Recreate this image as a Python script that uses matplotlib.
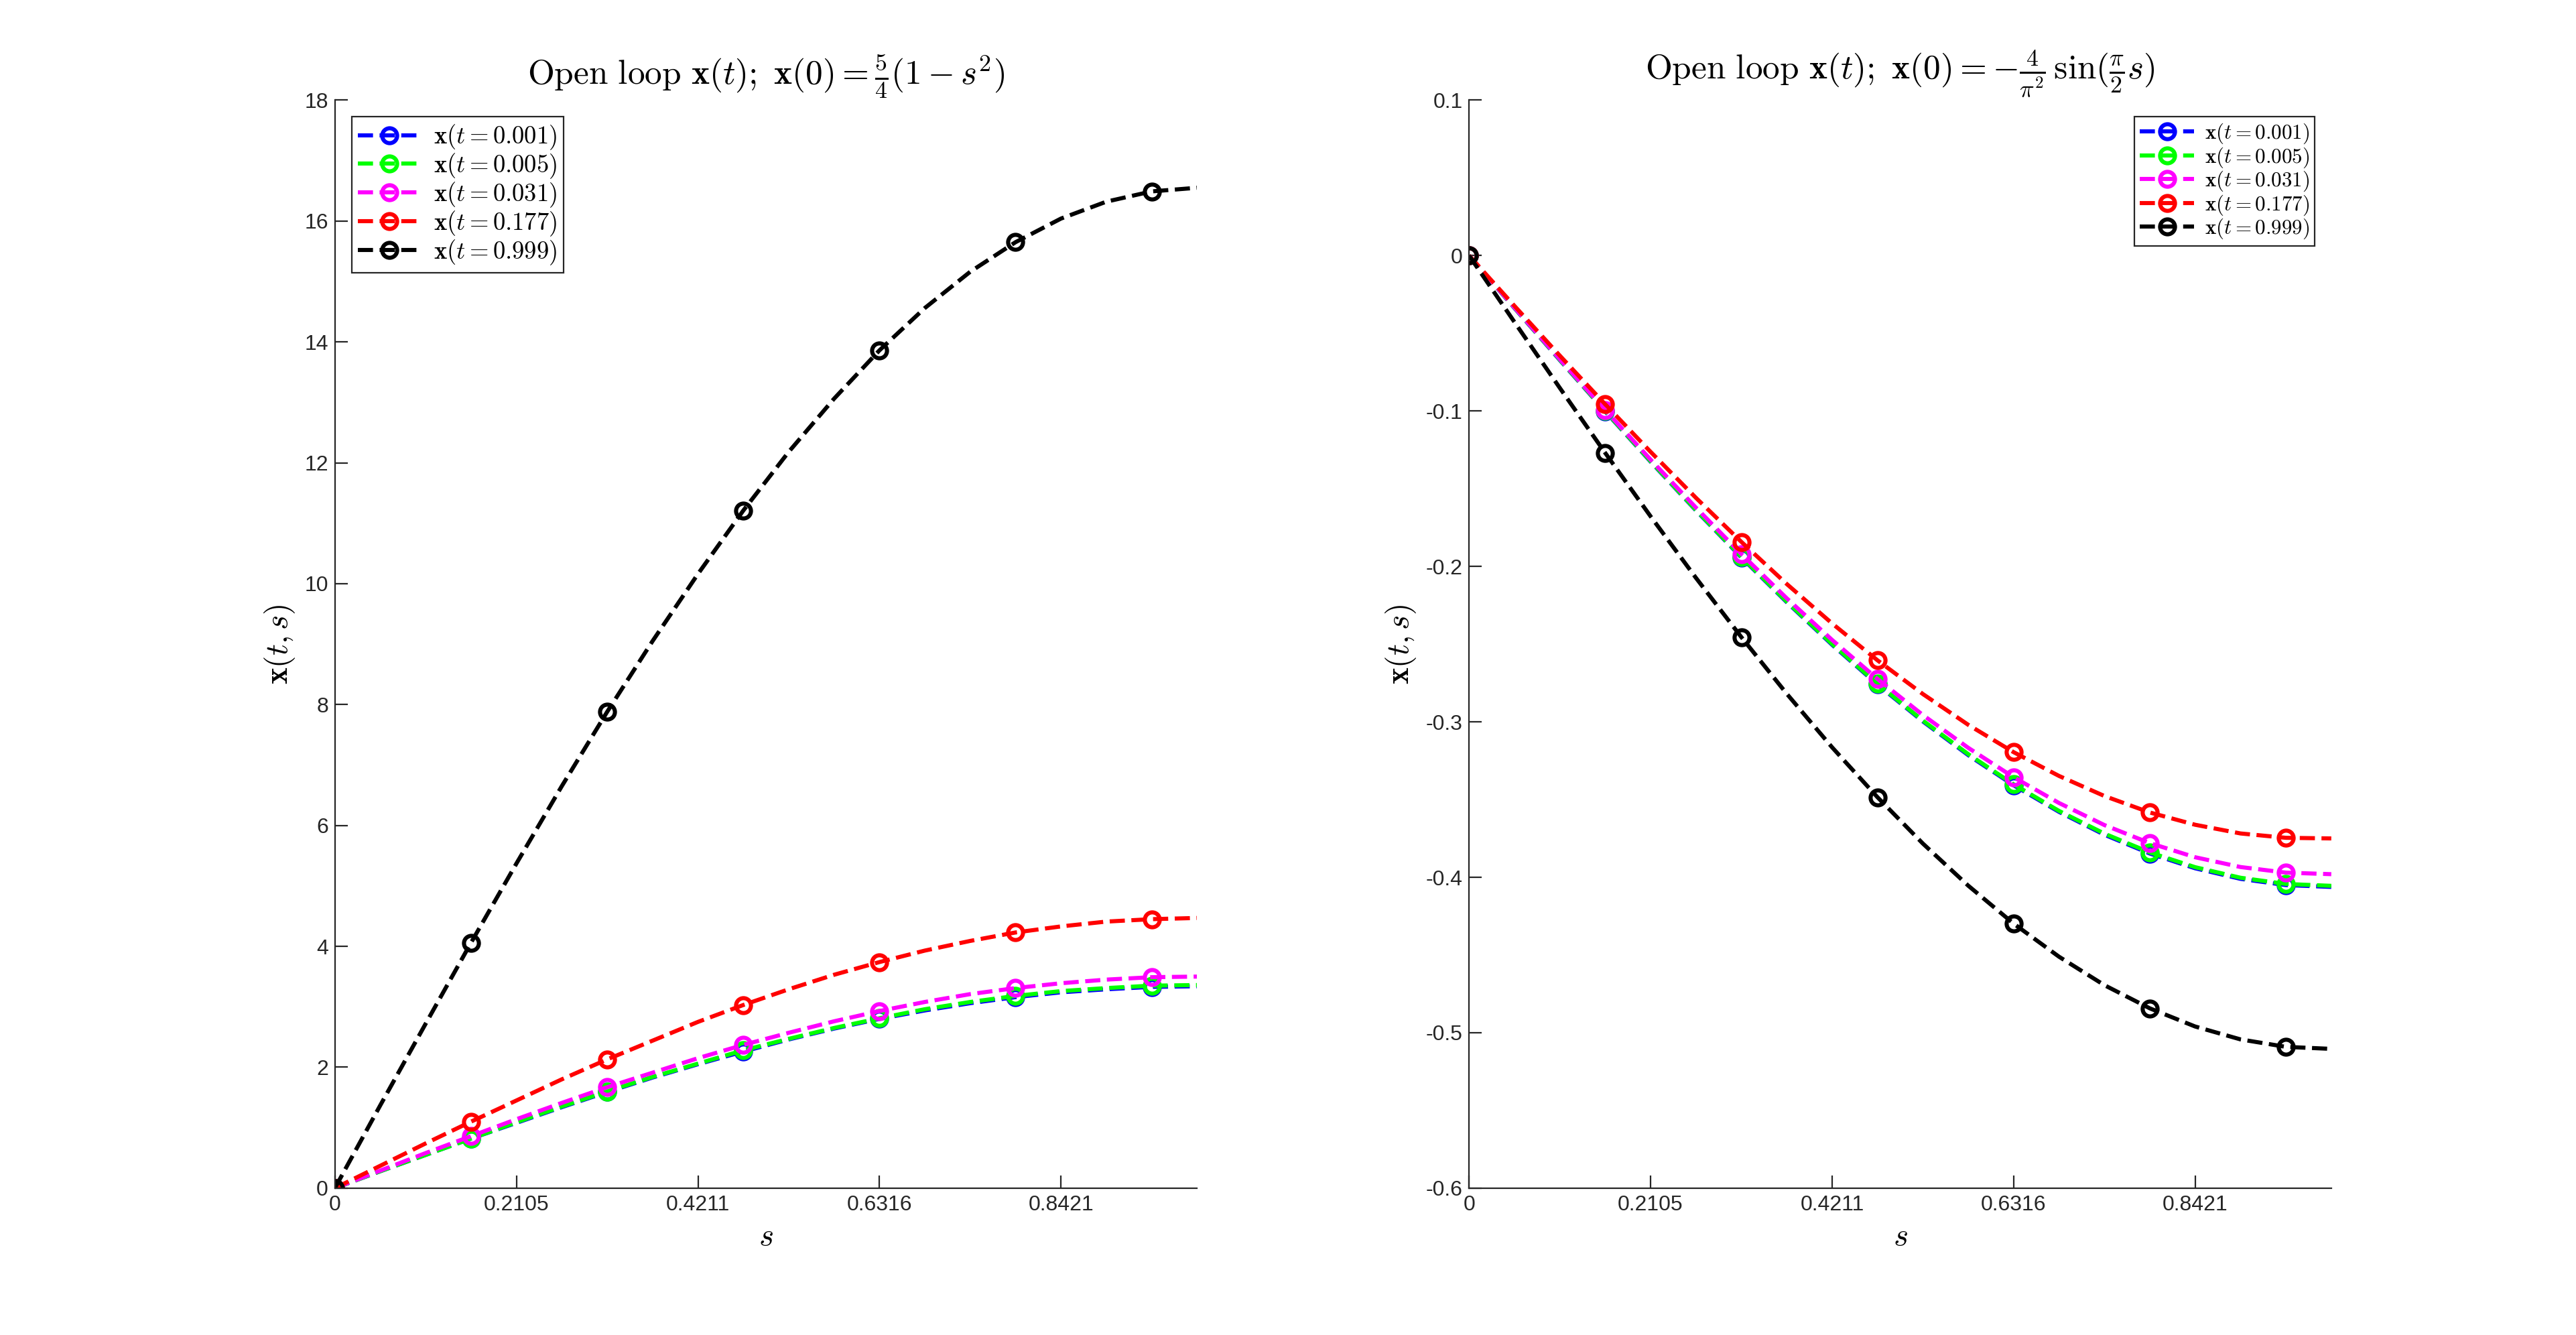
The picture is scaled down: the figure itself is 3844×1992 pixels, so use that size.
import numpy as np
import matplotlib
matplotlib.use('Agg')
import matplotlib.pyplot as plt

plt.rcParams['font.family'] = ['Liberation Sans', 'DejaVu Sans']
plt.rcParams['mathtext.fontset'] = 'cm'

# grid s = linspace(0,1,20), markers every 3rd point
s = np.linspace(0, 1, 20)
labels = [r'$\mathbf{x}(t=0.001)$', r'$\mathbf{x}(t=0.005)$', r'$\mathbf{x}(t=0.031)$',
          r'$\mathbf{x}(t=0.177)$', r'$\mathbf{x}(t=0.999)$']
colors = ['b', (0, 1, 0), (1, 0, 1), 'r', 'k']

# left panel: x(0) = 5/4 (1 - s^2)
left_001 = [0, 0.28, 0.55, 0.82, 1.08, 1.34, 1.59, 1.83, 2.05, 2.26,
            2.46, 2.64, 2.80, 2.94, 3.06, 3.16, 3.24, 3.29, 3.33, 3.34]
left_005 = [0, 0.28, 0.55, 0.82, 1.09, 1.35, 1.60, 1.84, 2.06, 2.28,
            2.47, 2.65, 2.81, 2.96, 3.08, 3.18, 3.26, 3.31, 3.35, 3.36]
left_031 = [0, 0.29, 0.58, 0.86, 1.14, 1.41, 1.67, 1.91, 2.15, 2.37,
            2.57, 2.76, 2.93, 3.08, 3.21, 3.31, 3.39, 3.45, 3.49, 3.50]
left_177 = [0, 0.37, 0.74, 1.10, 1.45, 1.80, 2.13, 2.44, 2.75, 3.03,
            3.29, 3.53, 3.74, 3.93, 4.09, 4.23, 4.33, 4.41, 4.45, 4.47]
left_999 = [0, 1.37, 2.72, 4.06, 5.37, 6.65, 7.88, 9.05, 10.16, 11.21,
            12.18, 13.06, 13.86, 14.56, 15.16, 15.65, 16.04, 16.32, 16.49, 16.55]

# right panel: x(0) = -4/pi^2 sin(pi/2 s)
right_001 = [0, -0.0338, -0.0673, -0.1003, -0.1326, -0.1640, -0.1942, -0.2230, -0.2504, -0.2760,
             -0.2997, -0.3214, -0.3408, -0.3579, -0.3726, -0.3847, -0.3942, -0.4010, -0.4050, -0.4062]
right_005 = [0, -0.0337, -0.0671, -0.1001, -0.1323, -0.1637, -0.1938, -0.2226, -0.2499, -0.2755,
             -0.2992, -0.3208, -0.3402, -0.3573, -0.3719, -0.3840, -0.3935, -0.4003, -0.4043, -0.4055]
right_031 = [0, -0.0335, -0.0667, -0.0994, -0.1313, -0.1622, -0.1920, -0.2205, -0.2473, -0.2724,
             -0.2956, -0.3167, -0.3356, -0.3522, -0.3664, -0.3780, -0.3871, -0.3934, -0.3970, -0.3980]
right_177 = [0, -0.0324, -0.0644, -0.0957, -0.1263, -0.1559, -0.1842, -0.2113, -0.2367, -0.2604,
             -0.2821, -0.3019, -0.3195, -0.3348, -0.3477, -0.3583, -0.3662, -0.3718, -0.3746, -0.3750]
right_999 = [0, -0.0428, -0.0852, -0.1270, -0.1678, -0.2074, -0.2455, -0.2819, -0.3164, -0.3485,
             -0.3783, -0.4054, -0.4298, -0.4511, -0.4694, -0.4843, -0.4960, -0.5043, -0.5091, -0.5104]

xticks = [0, 0.2105, 0.4211, 0.6316, 0.8421]
xticklabels = ['0', '0.2105', '0.4211', '0.6316', '0.8421']

fig = plt.figure(figsize=(19.22, 9.96), dpi=200)
ax1 = fig.add_axes([0.1300, 0.1100, 0.3347, 0.8150])
ax2 = fig.add_axes([0.5703, 0.1100, 0.3347, 0.8150])

panels = [
    (ax1, [left_001, left_005, left_031, left_177, left_999],
     r'$\mathrm{Open\ loop}\ \mathbf{x}(t);\ \mathbf{x}(0) = \frac{5}{4}(1 - s^2)$',
     (0, 18), np.arange(0, 19, 2), [str(v) for v in range(0, 19, 2)], 'upper left', 13.2, 0.68),
    (ax2, [right_001, right_005, right_031, right_177, right_999],
     r'$\mathrm{Open\ loop}\ \mathbf{x}(t);\ \mathbf{x}(0) = -\frac{4}{\pi^2}\,\sin(\frac{\pi}{2}s)$',
     (-0.6, 0.1), np.round(np.arange(-0.6, 0.11, 0.1), 1),
     ['-0.6', '-0.5', '-0.4', '-0.3', '-0.2', '-0.1', '0', '0.1'], 'upper right', 11.2, 0.8),
]

for ax, series, title, ylim, yticks, yticklabels, loc, lfs, bpad in panels:
    for y, c, lab in zip(series, colors, labels):
        ax.plot(s, y, '--', color=c, lw=2.2, marker='o', markevery=3,
                markersize=8, markerfacecolor='none', markeredgewidth=2.2, label=lab)
    ax.set_xlim(0, 1)
    ax.set_ylim(*ylim)
    ax.set_xticks(xticks)
    ax.set_xticklabels(xticklabels)
    ax.set_yticks(yticks)
    ax.set_yticklabels(yticklabels)
    ax.spines['top'].set_visible(False)
    ax.spines['right'].set_visible(False)
    for sp in ['left', 'bottom']:
        ax.spines[sp].set_color('#262626')
        ax.spines[sp].set_linewidth(0.8)
    ax.tick_params(direction='in', length=7, width=0.8, colors='#262626', labelsize=11.5)
    ax.set_title(title, fontsize=18.5, pad=8)
    ax.set_xlabel(r'$s$', fontsize=17)
    ax.set_ylabel(r'$\mathbf{x}(t,s)$', fontsize=17)
    leg = ax.legend(loc=loc, fontsize=lfs, fancybox=False, framealpha=1,
                    edgecolor='#262626', borderaxespad=bpad, handlelength=2.6,
                    labelspacing=0.0, borderpad=0.25, handletextpad=0.5)
    leg.get_frame().set_linewidth(0.8)

fig.savefig('out.png', dpi=200, facecolor='white')
